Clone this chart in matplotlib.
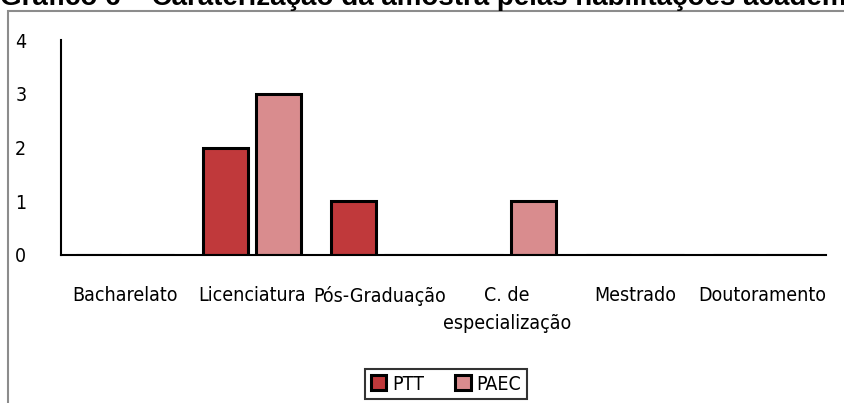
import matplotlib
matplotlib.use("Agg")
import matplotlib.pyplot as plt
from matplotlib.patches import Rectangle
from matplotlib import font_manager
import numpy as np

categories = ["Bacharelato", "Licenciatura", "Pós-Graduação", "C. de\nespecialização", "Mestrado", "Doutoramento"]
ptt = [0, 2, 1, 0, 0, 0]
paec = [0, 3, 0, 1, 0, 0]
series_names = ["PTT", "PAEC"]
title = "Gráfico 6 – Caraterização da amostra pelas habilitações académicas"

narrow = font_manager.FontProperties(family="DejaVu Sans", stretch="condensed", size=14)

fig = plt.figure(figsize=(8.44, 4.03), dpi=100)

# outer chart frame (cut at right and bottom)
fig.patches.append(Rectangle((8 / 844, -0.1), 1.2, 1 - 11 / 403 + 0.1,
                             transform=fig.transFigure, fill=False,
                             edgecolor="#8c8c8c", linewidth=1.5))

# title, top half clipped as in the source
fig.text(0.0, 1 - 5 / 403, title, ha="left", va="baseline",
         fontsize=20, fontweight="bold", family="Liberation Sans")

ax = fig.add_axes([61 / 844, 1 - 255 / 403, (826 - 61) / 844, (255 - 40) / 403])
x = np.arange(len(categories))
w = 0.353
off = 0.208
ax.bar(x - off, ptt, w, color="#c0393b", edgecolor="black", linewidth=2.2, label=series_names[0])
ax.bar(x + off, paec, w, color="#d98c8e", edgecolor="black", linewidth=2.2, label=series_names[1])

ax.set_xlim(-0.5, 5.5)
ax.set_ylim(0, 4)
ax.set_yticks([0, 1, 2, 3, 4])
ax.set_xticks(x)
ax.set_xticklabels(categories, fontproperties=narrow, va="top", linespacing=1.6)
ax.set_yticklabels([str(v) for v in range(5)], fontproperties=narrow)
ax.tick_params(axis="both", length=0)
ax.tick_params(axis="y", pad=25)
ax.tick_params(axis="x", pad=22)
for s in ["top", "right"]:
    ax.spines[s].set_visible(False)
ax.spines["left"].set_linewidth(1.5)
ax.spines["bottom"].set_linewidth(1.5)

leg = fig.legend(loc="center", bbox_to_anchor=(446 / 844, 1 - 384 / 403), ncol=2,
                 frameon=True, fancybox=False, edgecolor="black",
                 prop=narrow, handlelength=0.8, handleheight=0.8,
                 columnspacing=1.6, handletextpad=0.3, borderpad=0.3, borderaxespad=0.0)
leg.get_frame().set_linewidth(1.5)

fig.savefig("out.png", dpi=100)
